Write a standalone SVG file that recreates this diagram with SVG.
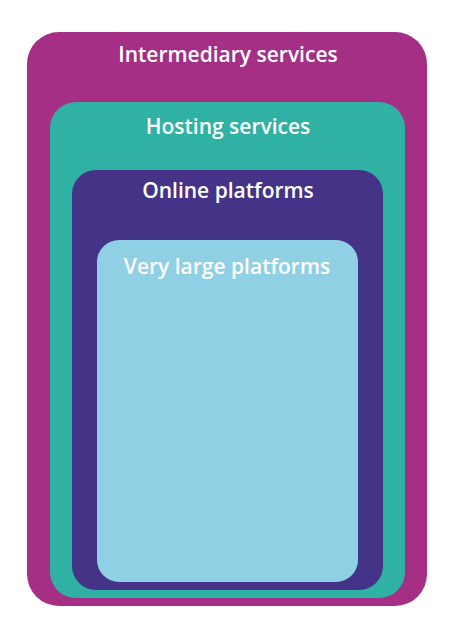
<svg xmlns="http://www.w3.org/2000/svg" width="460" height="638" viewBox="0 0 460 638">
<style>
text{font-family:"Open Sans","Noto Sans","DejaVu Sans",sans-serif;font-size:21px;fill:#ffffff;text-anchor:middle;font-weight:600}
</style>
<rect width="460" height="638" fill="#ffffff"/>
<g id="intermediary"><rect x="27" y="32" width="400" height="574" rx="32" fill="#A42F84"/><text x="228" y="62">Intermediary services</text></g>
<g id="hosting"><rect x="50" y="102" width="355" height="496" rx="26" fill="#2FB1A3"/><text x="228" y="134">Hosting services</text></g>
<g id="online"><rect x="72" y="170" width="311" height="420" rx="24" fill="#453388"/><text x="228" y="198">Online platforms</text></g>
<g id="very-large"><rect x="97" y="240" width="261" height="342" rx="22" fill="#8FD0E4"/><text x="227" y="274">Very large platforms</text></g>
<g id="connectors"></g>
</svg>
